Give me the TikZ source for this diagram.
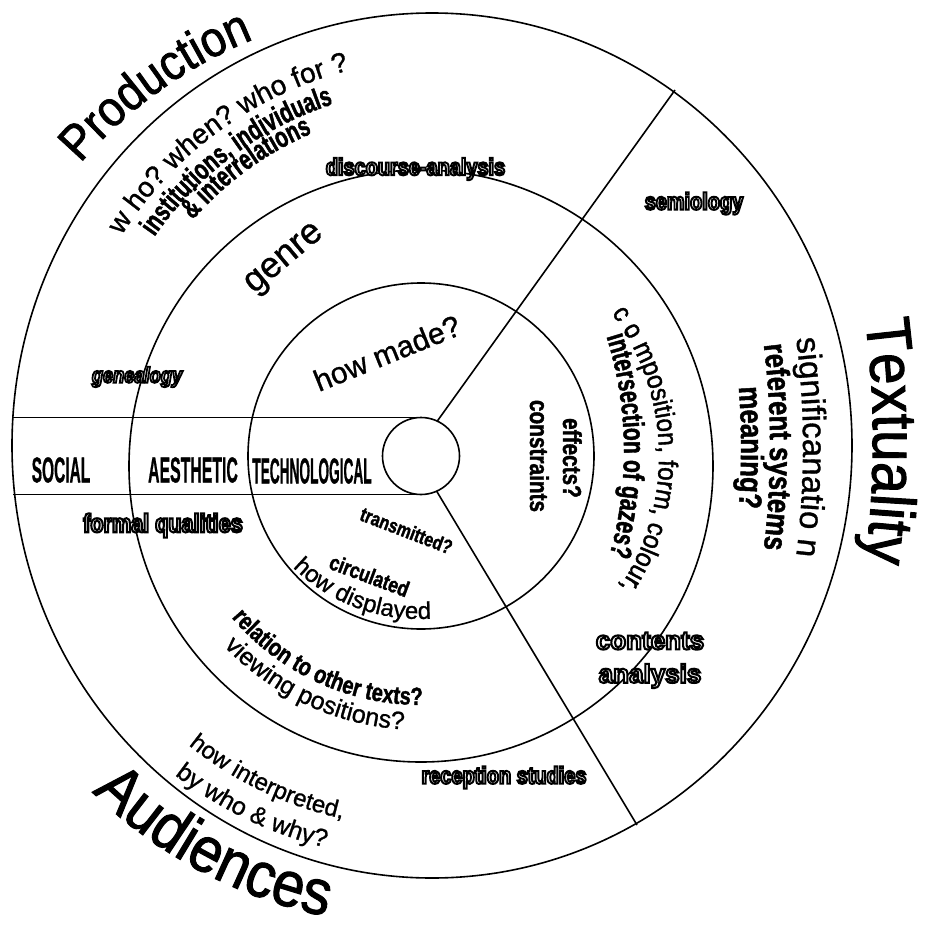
\documentclass[tikz,border=0pt]{standalone}
\usepackage{fontspec}
\usepackage{graphicx}
\setmainfont{Liberation Sans}
\newfontfamily\fA[FakeBold=1]{Liberation Sans}
\newfontfamily\fbig[FakeStretch=0.9, FakeBold=1.5]{Liberation Sans}
\newfontfamily\fcond[FakeStretch=0.8, FakeBold=1.5]{Liberation Sans}
\newfontfamily\fnarrow[FakeStretch=0.7, FakeBold=1.5]{Liberation Sans}
\newfontfamily\fout[FakeStretch=0.83, FakeBold=8]{Liberation Sans}
\newfontfamily\foutb[FakeBold=8]{Liberation Sans}
\usetikzlibrary{decorations.text}
\newcommand\fsz[1]{\fontsize{#1}{#1}\selectfont}
\newcommand\hollow[1]{\special{pdf:bcolor [1] [0]}#1\special{pdf:ecolor}}
\tikzset{
  ring/.style={line width=1.6pt, draw=black},
  arctext/.style={decorate, decoration={text along path, text align=center, text={#1}}},
  lbl/.style={inner sep=0pt, outer sep=0pt},
}
\begin{document}
\begin{tikzpicture}[x=1pt,y=1pt]
\useasboundingbox[fill=white] (-421,-468) rectangle (512,456);
% circles
\draw[ring] (11,10.5) ellipse [x radius=420pt, y radius=432.5pt];
\draw[ring] (0,-10) ellipse [x radius=292pt, y radius=296pt];
\draw[ring] (0,0) circle [radius=173pt];
\draw[ring] (0,0) circle [radius=38.5pt];
% band and radial lines
\draw[ring] (-408,38.5) -- (0,38.5);
\draw[ring] (-408,-38.5) -- (0,-38.5);
\draw[ring] (65:38.5pt) -- (254,366);
\draw[ring] (-66:38.5pt) -- (216,-369);
% curved texts
\path[arctext={|\fbig\fsz{50}|Production}] (145.6:449pt) arc[start angle=145.6, end angle=105.6, radius=449pt];
\path[shift={(20,20)}, arctext={|\fA\fsz{28}|w ho? when? who for ?}] (156:377pt) arc[start angle=156, end angle=96, radius=377pt];
\path[shift={(20,20)}, arctext={|\fnarrow\bfseries\fsz{29}|institutions, individuals}] (154.6:349pt) arc[start angle=154.6, end angle=98.6, radius=349pt];
\path[shift={(20,20)}, arctext={|\fnarrow\bfseries\fsz{29}|{\&} interrelations}] (148:329pt) arc[start angle=148, end angle=104, radius=329pt];
\path[shift={(-500,15)}, arctext={|\fbig\fsz{63}|Textuality}] (12:952pt) arc[start angle=12, end angle=-12, radius=952pt];
\path[shift={(-500,9)}, arctext={|\fA\fsz{33}|significanatio n}] (12:882pt) arc[start angle=12, end angle=-12, radius=882pt];
\path[shift={(-500,9)}, arctext={|\fcond\bfseries\fsz{32}|referent systems}] (12:849pt) arc[start angle=12, end angle=-12, radius=849pt];
\path[shift={(-500,8.5)}, arctext={|\fcond\bfseries\fsz{32}|meaning?}] (10:820pt) arc[start angle=10, end angle=-10, radius=820pt];
\path[arctext={|\fbig\fsz{27}|c o mposition, form, colour,}] (46.7:238pt) arc[start angle=46.7, end angle=-43.3, radius=238pt];
\path[shift={(-180,5)}, arctext={|\fnarrow\bfseries\fsz{30}|intersection of gazes?}] (22.8:383pt) arc[start angle=22.8, end angle=-21.2, radius=383pt];
\path[shift={(-2,17)}, arctext={|\fA\fsz{24}|how displayed}] (217.7:180pt) arc[start angle=217.7, end angle=281.7, radius=180pt];
\path[arctext={|\fcond\bfseries\fsz{25}|relation to other texts?}] (212.4:249pt) arc[start angle=212.4, end angle=278.4, radius=249pt];
\path[arctext={|\fA\fsz{25}|viewing positions?}] (216.2:274pt) arc[start angle=216.2, end angle=274.2, radius=274pt];
\path[arctext={|\fA\fsz{24}|how interpreted,}] (224.5:371pt) arc[start angle=224.5, end angle=264.5, radius=371pt];
\path[arctext={|\fA\fsz{25}|by who {\&} why?}] (224.3:403pt) arc[start angle=224.3, end angle=264.3, radius=403pt];
\path[arctext={|\fbig\fsz{64}|Audiences}] (218:470pt) arc[start angle=218, end angle=266, radius=470pt];
% straight texts
\node[lbl, font=\fA\bfseries\fsz{36}] (social) at (-360,-14) {\scalebox{0.43}[1]{SOCIAL}};
\node[lbl, font=\fA\bfseries\fsz{36}] (aesth) at (-228,-14) {\scalebox{0.44}[1]{AESTHETIC}};
\node[lbl, font=\fA\bfseries\fsz{36}] (techno) at (-109,-15) {\scalebox{0.38}[1]{TECHNOLOGICAL}};
\node[lbl, font=\fA\fsz{36}, rotate=40] (genre) at (-135.5,196) {genre};
\node[lbl, font=\fA\fsz{30}, rotate=22] (howmade) at (-34,103) {how made?};
\node[lbl, font=\fcond\bfseries\fsz{26}, rotate=-90, anchor=base] (effects) at (142,-2) {effects?};
\node[lbl, font=\fcond\bfseries\fsz{26}, rotate=-90, anchor=base] (constr) at (109,0) {constraints};
\node[lbl, font=\fcond\bfseries\fsz{20}, rotate=-21] (transm) at (-14.5,-74.5) {transmitted?};
\node[lbl, font=\fcond\bfseries\fsz{22}, rotate=-20.5] (circ) at (-51.5,-119.5) {circulated};
% outlined texts
\node[lbl, font=\fout\bfseries\fsz{24}] (discourse) at (-5.5,287) {\hollow{discourse-analysis}};
\node[lbl, font=\fout\bfseries\fsz{24}] (semio) at (273,252.5) {\hollow{semiology}};
\node[lbl, font=\fout\bfseries\itshape\fsz{22}] (geneal) at (-284,79) {\hollow{genealogy}};
\node[lbl, font=\fout\bfseries\fsz{26}] (formal) at (-258,-69.5) {\hollow{formal qualities}};
\node[lbl, font=\foutb\bfseries\fsz{26}] (contents) at (229,-185) {\hollow{contents}};
\node[lbl, font=\foutb\bfseries\fsz{26}] (analysis) at (229,-220) {\hollow{analysis}};
\node[lbl, font=\fout\bfseries\fsz{24}] (reception) at (83,-321.5) {\hollow{reception studies}};
\end{tikzpicture}
\end{document}
